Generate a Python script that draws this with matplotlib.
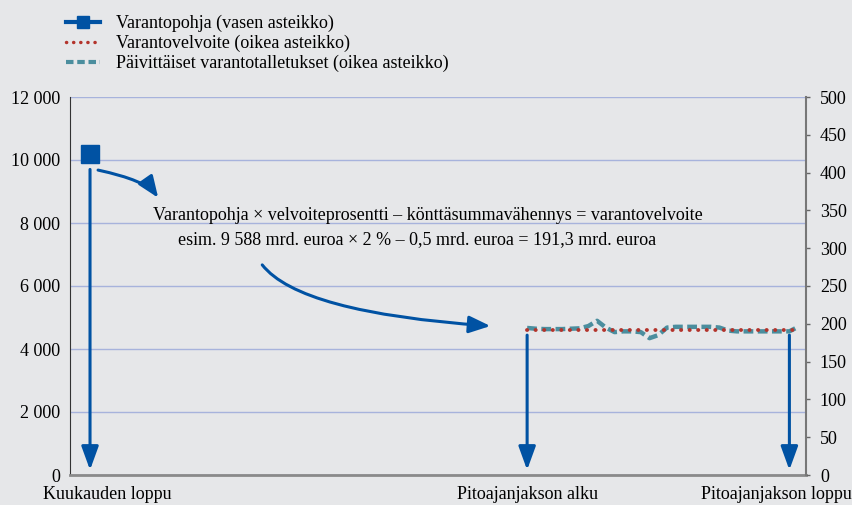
import numpy as np
import matplotlib.pyplot as plt
from matplotlib.lines import Line2D
from matplotlib.transforms import ScaledTranslation

plt.rcParams['font.family'] = ['Liberation Serif', 'DejaVu Serif']
plt.rcParams['font.size'] = 13

# data
event_names = ['Kuukauden loppu', 'Pitoajanjakson alku', 'Pitoajanjakson loppu']
event_days = [0, 50, 80]
base_day = 0
reserve_base = 10200          # mrd. euroa, vasen asteikko
req_days = np.arange(50, 82)
reserve_req = np.full(len(req_days), 191.3)
dep_days = np.arange(50, 82)
daily_deposits = [194.5, 193.5, 193, 193, 193, 193.5, 194, 197, 204, 195, 189,
                  190, 190, 189, 181, 185, 195, 196, 196, 196, 196, 196, 195,
                  191, 190, 190, 190, 190, 190, 190, 190, 196]
left_ticks = np.arange(0, 12001, 2000)
right_ticks = np.arange(0, 501, 50)

bg = '#e6e7e9'
blue = '#0052a3'
red = '#b3342c'
teal = '#4b8e9e'

def fmt(v):
    return f'{v:,}'.replace(',', ' ')

fig = plt.figure(figsize=(8.52, 5.05), dpi=100, facecolor=bg)
ax = fig.add_axes([70/852, 30/505, 736/852, 378/505], facecolor=bg)
ax2 = ax.twinx()

ax.set_xlim(-2.29, 81.9)
ax.set_ylim(0, 12000)
ax2.set_ylim(0, 500)

ax.set_yticks(left_ticks)
ax.set_yticklabels([fmt(v) for v in left_ticks])
ax.tick_params(axis='y', length=0, pad=7)
ax.grid(axis='y', color='#a7b3dc', lw=1)
ax.set_axisbelow(True)

ax2.set_yticks(right_ticks)
ax2.set_yticklabels([str(v) for v in right_ticks])
ax2.tick_params(axis='y', length=3, width=1, color='#666666', pad=7)

for a in (ax, ax2):
    a.spines['top'].set_visible(False)
ax.spines['left'].set_color('#333333')
ax.spines['right'].set_visible(False)
ax2.spines['left'].set_visible(False)
ax2.spines['right'].set_color('#777777')
ax2.spines['right'].set_linewidth(1.5)
ax.spines['bottom'].set_color('#8a8a8a')
ax.spines['bottom'].set_linewidth(2)
ax2.spines['bottom'].set_visible(False)

ax.set_xticks(event_days)
ax.set_xticklabels(event_names)
ax.tick_params(axis='x', length=0, pad=8)
shifts = [17, 0, -13]
for lab, s in zip(ax.get_xticklabels(), shifts):
    lab.set_transform(lab.get_transform() + ScaledTranslation(s/100, 0, fig.dpi_scale_trans))

# series
dot_ls = (0, (0.05, 2.15))
dash_ls = (0, (2.2, 1.0))
ax.plot([base_day], [reserve_base], marker='s', ms=13.5, color=blue, ls='none', zorder=5)
ax2.plot(dep_days, daily_deposits, color=teal, lw=3.2, ls=dash_ls, zorder=3)
ax2.plot(req_days, reserve_req, color=red, lw=2.8, ls=dot_ls,
         dash_capstyle='round', zorder=4)

# vertical arrows
arrow_kw = dict(arrowstyle='-|>,head_length=1.1,head_width=0.4', color=blue, lw=2.2,
                shrinkA=0, shrinkB=0)
ax.annotate('', xy=(event_days[0], 160), xytext=(event_days[0], 9700), arrowprops=arrow_kw)
for d in event_days[1:]:
    ax.annotate('', xy=(d, 160), xytext=(d, 4440), arrowprops=arrow_kw)

# curved arrows
curve_kw = dict(arrowstyle='-|>,head_length=1.0,head_width=0.4', color=blue, lw=2.2,
                shrinkA=0, shrinkB=0)
ax.annotate('', xy=(7.8, 8800), xytext=(0.92, 9680),
            arrowprops=dict(curve_kw, connectionstyle='angle3,angleA=-12,angleB=-55'))
ax.annotate('', xy=(45.8, 4730), xytext=(19.7, 6670),
            arrowprops=dict(curve_kw, connectionstyle='angle3,angleA=-52,angleB=-4'))

ax.text(38.7, 8250, 'Varantopohja × velvoiteprosentti – könttäsummavähennys = varantovelvoite',
        ha='center', va='center')
ax.text(37.4, 7460, 'esim. 9 588 mrd. euroa × 2 % – 0,5 mrd. euroa = 191,3 mrd. euroa',
        ha='center', va='center')

handles = [
    Line2D([], [], color=blue, lw=3, marker='s', ms=8),
    Line2D([], [], color=red, lw=2.5, ls=(0, (0.05, 2.0)), dash_capstyle='round'),
    Line2D([], [], color=teal, lw=3, ls=(0, (1.8, 0.9))),
]
labels = ['Varantopohja (vasen asteikko)', 'Varantovelvoite (oikea asteikko)',
          'Päivittäiset varantotalletukset (oikea asteikko)']
fig.legend(handles, labels, loc='upper left', bbox_to_anchor=(57/852, 1 - 6/505),
           frameon=False, borderpad=0, handlelength=1.9, handletextpad=0.85,
           labelspacing=0.15)

fig.savefig('out.png', dpi=100, facecolor=bg)
